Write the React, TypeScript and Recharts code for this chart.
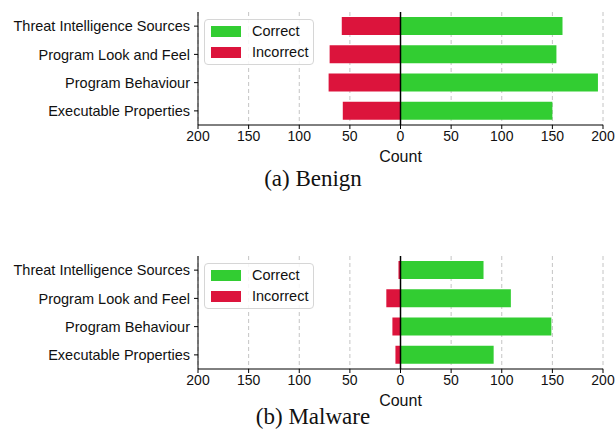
import {
  BarChart,
  Bar,
  XAxis,
  YAxis,
  CartesianGrid,
  ReferenceLine,
} from "recharts";

// categories, top to bottom
const categories: string[] = [
  "Threat Intelligence Sources",
  "Program Look and Feel",
  "Program Behaviour",
  "Executable Properties",
];

// (a) Benign
const benignCorrect: number[] = [160, 154, 195, 150];
const benignIncorrect: number[] = [58, 70, 71, 57];

// (b) Malware
const malwareCorrect: number[] = [82, 109, 149, 92];
const malwareIncorrect: number[] = [2, 14, 8, 5];

const xTicks: number[] = [-200, -150, -100, -50, 0, 50, 100, 150, 200];

const GREEN = "#32cd32";
const RED = "#dc143c";
const FONT = '"Liberation Sans", Arial, Helvetica, sans-serif';

type Row = { name: string; correct: number; incorrect: number };

const buildRows = (correct: number[], incorrect: number[]): Row[] =>
  categories.map((name, i) => ({
    name,
    correct: correct[i],
    incorrect: -incorrect[i], // drawn to the left of zero
  }));

const LegendBox = () => (
  <div
    style={{
      position: "absolute",
      left: 204,
      top: 19,
      width: 108,
      height: 44,
      border: "1px solid #d6d6d6",
      borderRadius: 4,
      background: "rgba(255,255,255,0.85)",
      fontFamily: FONT,
      fontSize: 14.5,
      color: "#111",
    }}
  >
    {[
      { label: "Correct", color: GREEN },
      { label: "Incorrect", color: RED },
    ].map((item, i) => (
      <div
        key={item.label}
        style={{
          position: "absolute",
          left: 6,
          top: 5 + i * 21,
          display: "flex",
          alignItems: "center",
          height: 12,
        }}
      >
        <span
          style={{
            display: "inline-block",
            width: 30,
            height: 11,
            background: item.color,
            marginRight: 11,
          }}
        />
        <span style={{ lineHeight: "12px" }}>{item.label}</span>
      </div>
    ))}
  </div>
);

const Panel = ({
  rows,
  top,
  caption,
  captionTop,
}: {
  rows: Row[];
  top: number;
  caption: string;
  captionTop: number;
}) => (
  <div style={{ position: "absolute", left: 0, top, width: 615, height: 186 }}>
    <BarChart
      width={615}
      height={172}
      data={rows}
      layout="vertical"
      stackOffset="sign"
      margin={{ top: 12, right: 12, bottom: 0, left: 0 }}
      barSize={18}
      style={{ fontFamily: FONT }}
    >
      <CartesianGrid horizontal={false} stroke="#c4c4c4" strokeDasharray="4 3" />
      <XAxis
        type="number"
        domain={[-200, 200]}
        ticks={xTicks}
        tickFormatter={(v: number) => String(Math.abs(v))}
        allowDataOverflow
        height={47}
        tickSize={4}
        tickMargin={2}
        stroke="#000"
        tick={{ fontSize: 14, fill: "#111", fontFamily: FONT }}
        label={{
          value: "Count",
          position: "insideBottom",
          offset: 10,
          fontSize: 16,
          fill: "#111",
          fontFamily: FONT,
        }}
      />
      <YAxis
        type="category"
        dataKey="name"
        width={198}
        tickSize={4}
        tickMargin={4}
        stroke="#000"
        tick={{ fontSize: 14.5, fill: "#111", fontFamily: FONT }}
        interval={0}
      />
      <Bar dataKey="correct" stackId="a" fill={GREEN} isAnimationActive={false} />
      <Bar dataKey="incorrect" stackId="a" fill={RED} isAnimationActive={false} />
      <ReferenceLine x={0} stroke="#000" strokeWidth={1.5} />
    </BarChart>
    <LegendBox />
    <div
      style={{
        position: "absolute",
        left: 213,
        top: captionTop,
        width: 200,
        textAlign: "center",
        fontFamily: '"Liberation Serif", "Times New Roman", serif',
        fontSize: 23,
        color: "#111",
        lineHeight: "18px",
      }}
    >
      {caption}
    </div>
  </div>
);

export default function App() {
  return (
    <div
      style={{
        position: "absolute",
        left: 0,
        top: 0,
        width: 615,
        height: 432,
        background: "#fff",
        overflow: "hidden",
      }}
    >
      <Panel
        rows={buildRows(benignCorrect, benignIncorrect)}
        top={0}
        caption="(a) Benign"
        captionTop={170}
      />
      <Panel
        rows={buildRows(malwareCorrect, malwareIncorrect)}
        top={244}
        caption="(b) Malware"
        captionTop={164}
      />
    </div>
  );
}
